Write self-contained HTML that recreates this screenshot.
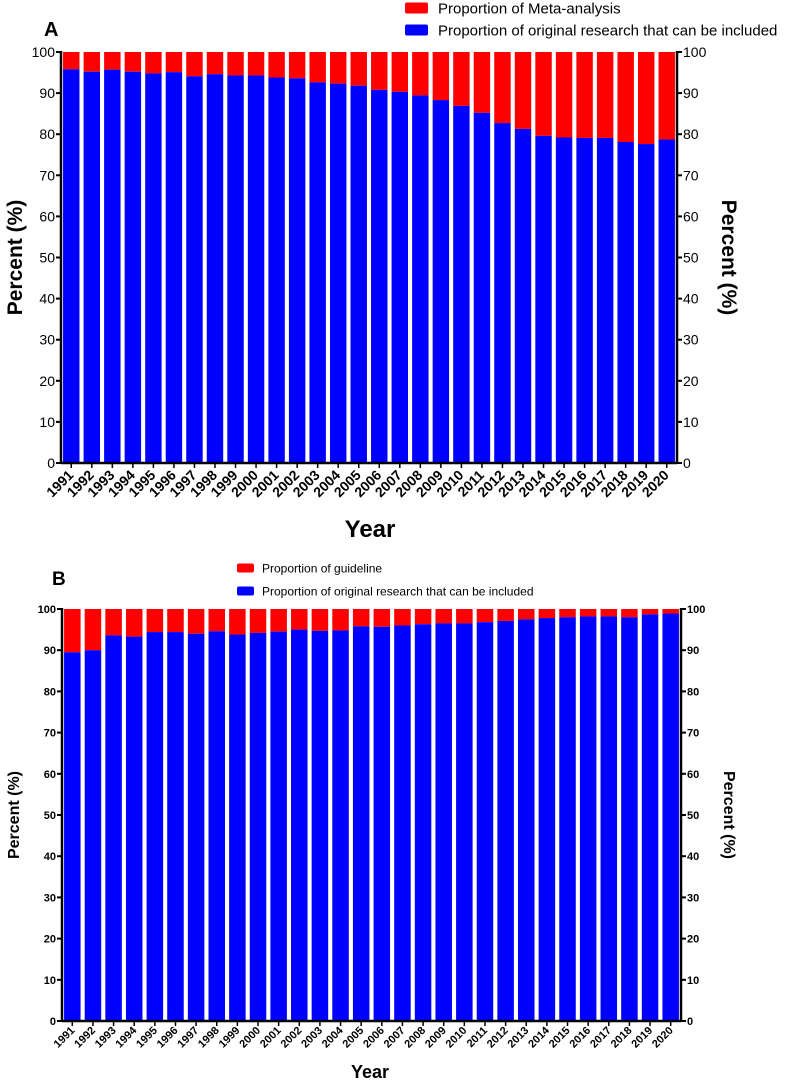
<!DOCTYPE html>
<html><head><meta charset="utf-8"><style>
html,body{margin:0;padding:0;background:#fff;}
svg{display:block;font-family:"Liberation Sans",Arial,sans-serif;}
</style></head><body>
<svg id="chart" width="800" height="1081"></svg>
<script>
const years = [1991,1992,1993,1994,1995,1996,1997,1998,1999,2000,2001,2002,2003,2004,2005,2006,2007,2008,2009,2010,2011,2012,2013,2014,2015,2016,2017,2018,2019,2020];
const originalA = [95.8,95.2,95.7,95.2,94.8,95.1,94.1,94.6,94.3,94.3,93.8,93.6,92.6,92.3,91.8,90.8,90.3,89.4,88.3,86.9,85.2,82.7,81.3,79.6,79.2,79.1,79.1,78.1,77.6,78.7];
const originalB = [89.5,90.0,93.6,93.3,94.4,94.4,94.0,94.6,93.8,94.2,94.5,95.0,94.7,94.8,95.8,95.7,96.0,96.3,96.5,96.5,96.8,97.1,97.5,97.8,98.0,98.2,98.2,98.0,98.7,98.9];
const yTicks = [0,10,20,30,40,50,60,70,80,90,100];

const NS="http://www.w3.org/2000/svg";
const svg=document.getElementById('chart');
function mk(tag,attrs,parent,text){const e=document.createElementNS(NS,tag);for(const k in attrs)e.setAttribute(k,attrs[k]);if(text!==undefined)e.textContent=text;(parent||svg).appendChild(e);return e;}

function drawPanel(cfg){
  const g=mk('g',{});
  
  
  const yScale=v=>cfg.y0+(cfg.y100-cfg.y0)*v/100;
  const slot=(cfg.xR-cfg.xL)/years.length;
  const bw=slot*0.8;
  years.forEach((yr,i)=>{
    const x=cfg.xL+slot*i+(slot-bw)/2;
    const r=mk('rect',{x:x,y:yScale(100),width:bw,height:yScale(cfg.vals[i])-yScale(100),fill:'#ff0000'},g);
    
    
    const b=mk('rect',{x:x,y:yScale(cfg.vals[i]),width:bw,height:yScale(0)-yScale(cfg.vals[i]),fill:'#0000ff'},g);
    
    
    const tx=cfg.xL+slot*(i+0.5);
    mk('line',{x1:tx,y1:cfg.y0,x2:tx,y2:cfg.y0+5,stroke:'#000','stroke-width':1.5},g);
    const t=mk('text',{x:tx+3,y:cfg.y0+cfg.lblOff,'text-anchor':'end','font-size':cfg.xfs,'font-weight':'bold',transform:`rotate(-45 ${tx+3} ${cfg.y0+cfg.lblOff})`},g,yr);
    
    
  });
  mk('line',{x1:cfg.xL,y1:cfg.y100-1,x2:cfg.xL,y2:cfg.y0+1,stroke:'#000','stroke-width':2.5},g);
  mk('line',{x1:cfg.xR,y1:cfg.y100-1,x2:cfg.xR,y2:cfg.y0+1,stroke:'#000','stroke-width':2.5},g);
  mk('line',{x1:cfg.xL,y1:cfg.y0,x2:cfg.xR,y2:cfg.y0,stroke:'#000','stroke-width':2.5},g);
  yTicks.forEach(v=>{
    const y=yScale(v);
    mk('line',{x1:cfg.xL-5,y1:y,x2:cfg.xL,y2:y,stroke:'#000','stroke-width':2},g);
    mk('line',{x1:cfg.xR,y1:y,x2:cfg.xR+5,y2:y,stroke:'#000','stroke-width':2},g);
    const l=mk('text',{x:cfg.xL-6,y:y+cfg.yfs*0.36,'text-anchor':'end','font-size':cfg.yfs,'font-weight':cfg.yw},g,v);
    
    
    const r=mk('text',{x:cfg.xR+6,y:y+cfg.yfs*0.36,'text-anchor':'start','font-size':cfg.yfs,'font-weight':cfg.yw},g,v);
    
    
  });
  const midY=(cfg.y0+cfg.y100)/2;
  const lt=mk('text',{x:cfg.ltX,y:midY,'text-anchor':'middle','font-size':cfg.tfs,'font-weight':'bold',transform:`rotate(-90 ${cfg.ltX} ${midY})`},g,'Percent (%)');
  
  
  const rt=mk('text',{x:cfg.rtX,y:midY,'text-anchor':'middle','font-size':cfg.tfs,'font-weight':'bold',transform:`rotate(90 ${cfg.rtX} ${midY})`},g,'Percent (%)');
  
  
  const xt=mk('text',{x:370,y:cfg.yearY,'text-anchor':'middle','font-size':cfg.yearFs,'font-weight':'bold'},g,'Year');
  
  
  const pl=mk('text',{x:cfg.letter[0],y:cfg.letter[1],'font-size':cfg.letter[2],'font-weight':'bold'},g,cfg.id.toUpperCase());
  
  
  cfg.legend.forEach((L,i)=>{
    const box=mk('rect',{x:cfg.legX,y:cfg.legY[i]-cfg.boxH/2,width:cfg.boxW,height:cfg.boxH,rx:2,fill:L[1]},g);
    
    
    const t=mk('text',{x:cfg.legX+cfg.boxW+cfg.legGap,y:cfg.legY[i]+cfg.legFs*0.36,'font-size':cfg.legFs},g,L[0]);
    
    
  });
}

drawPanel({id:'a',vals:originalA,xL:61,xR:677,y0:463,y100:52,xfs:14,yfs:14,yw:'normal',lblOff:13,tfs:21,ltX:22,rtX:722,yearY:537,yearFs:24,letter:[44,36,20],
  legend:[['Proportion of Meta-analysis','#ff0000'],['Proportion of original research that can be included','#0000ff']],legX:405,legY:[8,30],boxW:23,boxH:11,legGap:10,legFs:15});
drawPanel({id:'b',vals:originalB,xL:62,xR:681,y0:1021,y100:609,xfs:11,yfs:11,yw:'bold',lblOff:10,tfs:16,ltX:19,rtX:724,yearY:1078,yearFs:18,letter:[52,585,19],
  legend:[['Proportion of guideline','#ff0000'],['Proportion of original research that can be included','#0000ff']],legX:237,legY:[568,591],boxW:17,boxH:9,legGap:8,legFs:12});
</script>
</body></html>
